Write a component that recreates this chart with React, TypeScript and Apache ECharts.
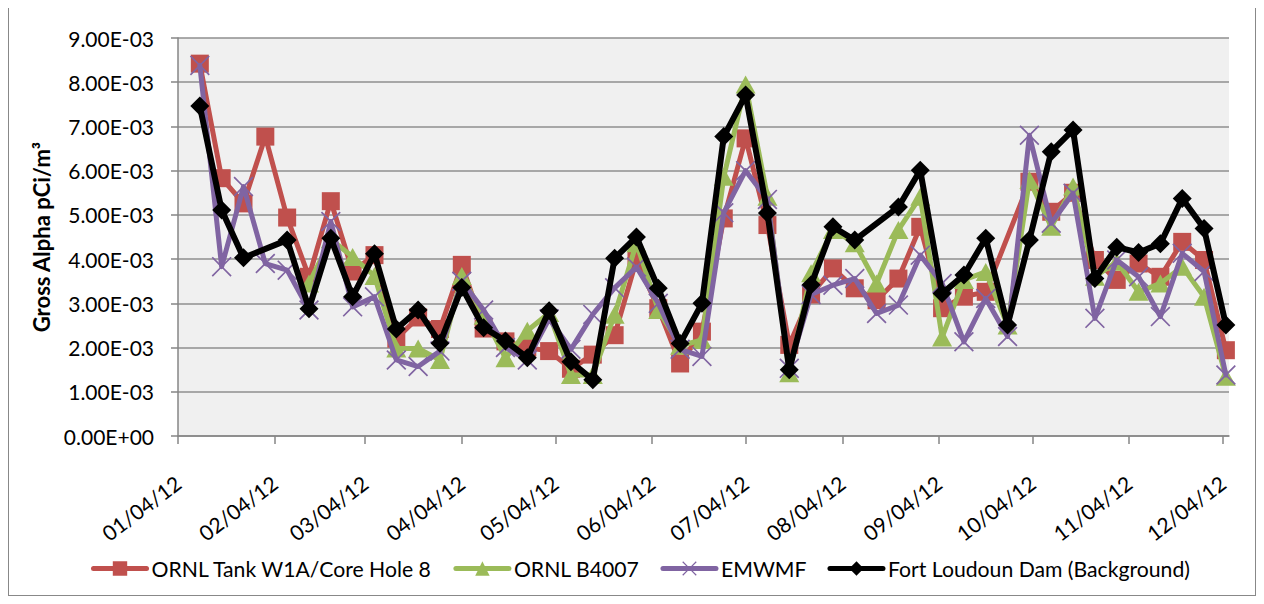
import React, { useEffect, useRef } from "react";
import * as echarts from "echarts";

// Weekly sample dates (Wednesdays, 2012)
const sampleDates = [
  "2012-01-11", "2012-01-18", "2012-01-25", "2012-02-01", "2012-02-08", "2012-02-15",
  "2012-02-22", "2012-02-29", "2012-03-07", "2012-03-14", "2012-03-21", "2012-03-28",
  "2012-04-04", "2012-04-11", "2012-04-18", "2012-04-25", "2012-05-02", "2012-05-09",
  "2012-05-16", "2012-05-23", "2012-05-30", "2012-06-06", "2012-06-13", "2012-06-20",
  "2012-06-27", "2012-07-04", "2012-07-11", "2012-07-18", "2012-07-25", "2012-08-01",
  "2012-08-08", "2012-08-15", "2012-08-22", "2012-08-29", "2012-09-05", "2012-09-12",
  "2012-09-19", "2012-09-26", "2012-10-03", "2012-10-10", "2012-10-17", "2012-10-24",
  "2012-10-31", "2012-11-07", "2012-11-14", "2012-11-21", "2012-11-28", "2012-12-05",
];

// Axis tick dates (4th of each month)
const tickDates = [
  "2012-01-04", "2012-02-04", "2012-03-04", "2012-04-04", "2012-05-04", "2012-06-04",
  "2012-07-04", "2012-08-04", "2012-09-04", "2012-10-04", "2012-11-04", "2012-12-04",
];
const axisStart = "2012-01-04";
const axisEnd = "2012-12-06";

const seriesNames = [
  "ORNL Tank W1A/Core Hole 8",
  "ORNL B4007",
  "EMWMF",
  "Fort Loudoun Dam (Background)",
];

// Gross alpha, pCi/m3 (null = no sample)
const ornlTankW1A = [
  0.00842, 0.00583, 0.00526, 0.00677, 0.00494, 0.0036, 0.00531, 0.00372, 0.00409, 0.0022,
  0.00268, 0.00242, 0.00387, 0.00243, 0.00214, 0.002, 0.00192, 0.00152, 0.00184, 0.00228,
  0.00398, 0.00289, 0.00164, 0.00236, 0.00492, 0.00673, 0.00477, 0.00206, 0.0032, 0.00379,
  0.00334, 0.00307, 0.00356, 0.00473, 0.00289, 0.00315, 0.00326, null, 0.00575, 0.00507,
  0.0055, 0.00398, 0.00353, 0.0039, 0.0036, 0.00439, 0.00398, 0.00194,
];

const ornlB4007 = [
  null, null, null, null, null, 0.00345, 0.00445, 0.00405, 0.00362, 0.00198,
  0.00198, 0.00172, 0.00362, 0.00272, 0.00176, 0.00238, 0.00278, 0.00138, 0.00138, 0.00274,
  0.00436, 0.00285, 0.00204, 0.00217, 0.00586, 0.00795, 0.00541, 0.00142, 0.00368, 0.00466,
  0.00436, 0.00345, 0.00466, 0.00541, 0.00223, 0.00353, 0.00371, 0.0025, 0.00579, 0.00473,
  0.00564, 0.0036, 0.00394, 0.00326, 0.00345, 0.00383, 0.00315, 0.00134,
];

const emwmf = [
  0.00838, 0.00383, 0.00564, 0.0039, 0.00375, 0.00285, 0.00485, 0.00292, 0.00315, 0.00172,
  0.00157, 0.00192, 0.0035, 0.00285, 0.002, 0.00172, 0.00265, 0.00196, 0.00275, 0.00335,
  0.00382, 0.003, 0.00196, 0.0018, 0.00505, 0.006, 0.00535, 0.00153, 0.0032, 0.00341,
  0.00356, 0.00277, 0.00296, 0.00409, 0.00345, 0.00213, 0.00311, 0.00225, 0.0068, 0.00481,
  0.00549, 0.00266, 0.00398, 0.0036, 0.0027, 0.00413, 0.00372, 0.00138,
];

const fortLoudoun = [
  0.00746, 0.00511, 0.00403, null, 0.00443, 0.00288, 0.00447, 0.00315, 0.00412, 0.00242,
  0.00285, 0.0021, 0.00336, 0.00245, 0.00215, 0.00177, 0.00283, 0.00168, 0.00127, 0.00402,
  0.0045, 0.00334, 0.00209, 0.003, 0.00677, 0.00771, 0.00504, 0.0015, 0.00342, 0.00473,
  0.00443, null, 0.00518, 0.00601, 0.00322, 0.00364, 0.00447, 0.00251, 0.00443, 0.00643,
  0.00692, 0.00356, 0.00427, 0.00415, 0.00435, 0.00537, 0.00469, 0.00251,
];

const colors = ["#C0504D", "#9BBB59", "#8064A2", "#000000"];

function toTime(s: string): number {
  const [y, m, d] = s.split("-").map(Number);
  return Date.UTC(y, m - 1, d);
}

function fmtSci(v: number): string {
  if (Math.abs(v) < 1e-12) return "0.00E+00";
  const [m, e] = v.toExponential(2).split("e");
  const n = parseInt(e, 10);
  return m + "E" + (n < 0 ? "-" : "+") + String(Math.abs(n)).padStart(2, "0");
}

function fmtDate(t: number): string {
  const d = new Date(t);
  const p = (n: number) => String(n).padStart(2, "0");
  return p(d.getUTCMonth() + 1) + "/" + p(d.getUTCDate()) + "/" + p(d.getUTCFullYear() % 100);
}

const X_SYMBOL =
  "path://M0,1.2 L1.2,0 L10,8.8 L18.8,0 L20,1.2 L11.2,10 L20,18.8 L18.8,20 L10,11.2 L1.2,20 L0,18.8 L8.8,10 Z";

function buildData(values: (number | null)[]) {
  const out: [number, number][] = [];
  sampleDates.forEach((d, i) => {
    const v = values[i];
    if (v !== null && v !== undefined) out.push([toTime(d), v]);
  });
  return out;
}

export default function App() {
  const ref = useRef<HTMLDivElement>(null);

  useEffect(() => {
    if (!ref.current) return;
    const chart = echarts.init(ref.current, undefined, { renderer: "svg" });
    const font = "Lato";
    const all = [ornlTankW1A, ornlB4007, emwmf, fortLoudoun];
    const symbols = ["rect", "triangle", X_SYMBOL, "diamond"];
    const sizes: any[] = [18, [20, 18], 20, 19];
    const widths = [5, 5, 5, 6];
    const ticks = tickDates.map(toTime);

    chart.setOption({
      animation: false,
      textStyle: { fontFamily: font },
      grid: {
        left: 170,
        top: 30,
        width: 1051,
        height: 398,
        show: true,
        backgroundColor: "#F0F0F0",
        borderWidth: 0,
        containLabel: false,
      },
      legend: {
        left: 83,
        top: 550,
        padding: 0,
        itemWidth: 53,
        itemHeight: 18,
        itemGap: 21,
        data: seriesNames,
        lineStyle: { width: 5 },
        textStyle: { fontFamily: font, fontSize: 21.2, color: "#000" },
      },
      xAxis: {
        type: "value",
        min: toTime(axisStart),
        max: toTime(axisEnd),
        axisLine: { show: true, onZero: false, lineStyle: { color: "#868686", width: 1.5 } },
        axisTick: {
          show: true,
          length: 8,
          customValues: ticks,
          lineStyle: { color: "#868686", width: 1.5 },
        },
        axisLabel: {
          customValues: ticks,
          formatter: (v: number) => fmtDate(v),
          rotate: 37,
          margin: 44,
          fontFamily: font,
          fontSize: 21,
          color: "#000",
        },
        splitLine: { show: false },
      },
      yAxis: {
        type: "value",
        min: 0,
        max: 0.009,
        interval: 0.001,
        name: "Gross Alpha pCi/m³",
        nameLocation: "middle",
        nameGap: 117,
        nameTextStyle: { fontFamily: font, fontSize: 22, fontWeight: "bold", color: "#000" },
        axisLine: { show: true, lineStyle: { color: "#868686", width: 1.5 } },
        axisTick: { show: true, length: 7, lineStyle: { color: "#868686", width: 1.5 } },
        axisLabel: {
          formatter: (v: number) => fmtSci(v),
          margin: 24,
          fontFamily: font,
          fontSize: 21,
          color: "#000",
        },
        splitLine: { show: true, lineStyle: { color: "#8F8F8F", width: 1.5 } },
      },
      series: seriesNames.map((name, i) => ({
        name,
        type: "line",
        data: buildData(all[i]),
        symbol: symbols[i],
        symbolSize: sizes[i],
        showSymbol: true,
        showAllSymbol: true,
        connectNulls: true,
        lineStyle: { color: colors[i], width: widths[i], join: "round", cap: "round" },
        itemStyle: { color: colors[i], borderWidth: 0 },
        emphasis: { disabled: true },
        z: 2 + i,
      })),
    });

    return () => chart.dispose();
  }, []);

  return (
    <div
      style={{
        position: "relative",
        width: 1248,
        height: 588,
        boxSizing: "border-box",
        borderLeft: "1px solid #888",
        borderRight: "1px solid #888",
        borderBottom: "1px solid #888",
      }}
    >
      <div ref={ref} style={{ position: "absolute", left: -1, top: 0, width: 1248, height: 588 }} />
    </div>
  );
}
